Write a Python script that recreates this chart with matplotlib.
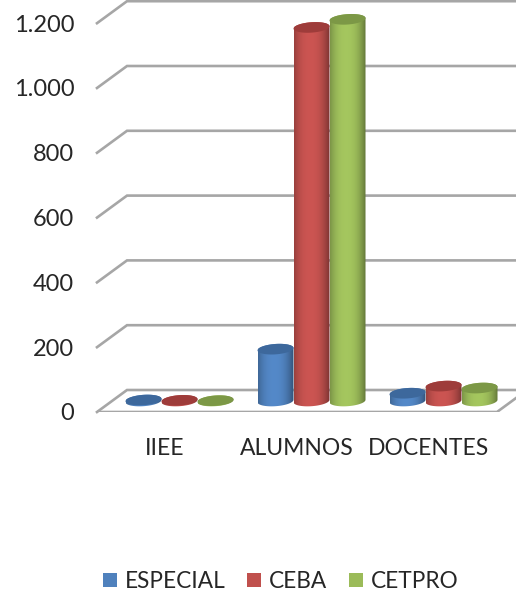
import numpy as np
import matplotlib
matplotlib.use("Agg")
import matplotlib.pyplot as plt
from matplotlib.patches import Polygon, Patch

categories = ["IIEE", "ALUMNOS", "DOCENTES"]
series_names = ["ESPECIAL", "CEBA", "CETPRO"]
especial = [3, 160, 24]
ceba = [2, 1153, 46]
cetpro = [1, 1178, 40]
tick_values = [0, 200, 400, 600, 800, 1000, 1200]
tick_labels = ["0", "200", "400", "600", "800", "1.000", "1.200"]

colors = ["#4F81BD", "#C0504D", "#9BBB59"]
tops = ["#3D689C", "#9E3C3A", "#7C9846"]
grid_col = "#A6A6A6"
FS = 16.3
plt.rcParams["font.family"] = ["Lato", "DejaVu Sans"]

W, H = 516, 593
PX_X = 132.0
PX_Y = 0.324
X0 = 179.5
Y0 = 401.0
fig = plt.figure(figsize=(W / 100, H / 100), dpi=100)


def make_axes(dx, dy):
    a = fig.add_axes([(97 + dx) / W, (H - 412 - dy) / H, (516 - 97) / W, 412 / H])
    a.set_xlim((97 - X0) / PX_X, (516 - X0) / PX_X)
    a.set_ylim((Y0 - 412) / PX_Y, Y0 / PX_Y)
    a.patch.set_alpha(0)
    for s in a.spines.values():
        s.set_visible(False)
    return a


ax = make_axes(0, 0)
ax.set_xticks([])
ax.set_yticks([])

# Front-plane axes carry the tick labels, as in a 3D chart
front = make_axes(-15, 11)
front.set_xticks(range(len(categories)), categories)
front.set_yticks(tick_values, tick_labels)
front.tick_params(axis="both", length=0, labelcolor="#262626")
front.tick_params(axis="y", pad=5.5, labelsize=17)
front.tick_params(axis="x", pad=10.5, labelsize=16.5)

# Walls and floor
depth_v = 11 / PX_Y
x_front = (97 - X0) / PX_X
x_back = (127 - X0) / PX_X
x_right = (516 - X0) / PX_X
x_front_end = (497 - X0) / PX_X
x_back_end = (527 - X0) / PX_X
for v in tick_values:
    ax.plot([x_front, x_back, x_right], [v - depth_v, v + depth_v, v + depth_v],
            color=grid_col, lw=1.9, zorder=1, solid_joinstyle="miter", clip_on=False)
ax.plot([x_front, x_front_end, x_back_end], [-depth_v, -depth_v, depth_v],
        color=grid_col, lw=1.9, zorder=1, solid_joinstyle="miter")

# Cylinders
w = 36 / PX_X
a = w / 2
b = 5.2 / PX_Y
s = 1.2 / PX_Y
tb = np.linspace(np.pi, 2 * np.pi, 40)
tt = np.linspace(0, np.pi, 40)
grad_x = np.linspace(-1, 1, 80)


def shade(col):
    rgb = np.array(matplotlib.colors.to_rgb(col))
    f = 0.72 + 0.34 * (1 - np.abs(grad_x + 0.1) ** 2.4)
    return np.clip(rgb[None, None, :] * f[None, :, None], 0, 1)


z = 3
for i, _ in enumerate(categories):
    for j, vals in enumerate([especial, ceba, cetpro]):
        cx = i + (j - 1) * w
        v = vals[i]
        xs = np.r_[cx + a * np.cos(tb), cx + a * np.cos(tt)]
        ys = np.r_[b * np.sin(tb) + s * np.cos(tb), v + b * np.sin(tt) + s * np.cos(tt)]
        clip = Polygon(np.c_[xs, ys], closed=True, fc="none", ec="none", zorder=z)
        ax.add_patch(clip)
        im = ax.imshow(shade(colors[j]), extent=[cx - a, cx + a, -2 * b, v + 2 * b],
                       aspect="auto", zorder=z, interpolation="bilinear")
        im.set_clip_path(clip)
        t = np.linspace(0, 2 * np.pi, 80)
        ax.add_patch(Polygon(np.c_[cx + a * np.cos(t), v + b * np.sin(t) + s * np.cos(t)],
                             closed=True, fc=tops[j], ec="none", zorder=z + 0.5))
        z += 1

ax.set_xlim((97 - X0) / PX_X, (516 - X0) / PX_X)
ax.set_ylim((Y0 - 412) / PX_Y, Y0 / PX_Y)

handles = [Patch(facecolor=c, edgecolor="none", label=n) for c, n in zip(colors, series_names)]
fig.legend(handles=handles, loc="center", bbox_to_anchor=(281 / W, 1 - 581.5 / H), ncol=3,
           frameon=False, fontsize=FS, handlelength=0.62, handleheight=0.62,
           handletextpad=0.35, columnspacing=0.95, labelcolor="#262626")

fig.savefig("out.png", dpi=100)
